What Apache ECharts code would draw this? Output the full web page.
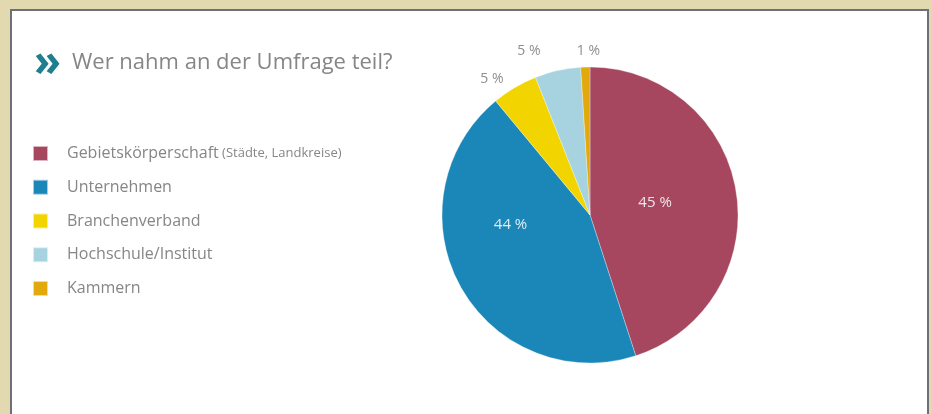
<!DOCTYPE html>
<html>
<head>
<meta charset="utf-8">
<script src="https://cdn.jsdelivr.net/npm/echarts@6/dist/echarts.min.js"></script>
<style>
html,body{margin:0;padding:0;background:#e3d9b1;}
#c{width:932px;height:414px;}
</style>
</head>
<body>
<div id="c"></div>
<script>
const categories = ['Gebietskörperschaft', 'Unternehmen', 'Branchenverband', 'Hochschule/Institut', 'Kammern'];
const legendSuffix = [' (Städte, Landkreise)', '', '', '', ''];
const values = [45, 44, 5, 5, 1];
const valueLabels = ['45 %', '44 %', '5 %', '5 %', '1 %'];
const colors = ['#a6475f', '#1b87b8', '#f2d500', '#a6d3df', '#e2a90c'];
const labelInside = [true, true, false, false, false];
const labelOffsets = [[-11, 0], [-12, -27], [-1, 0], [-10, -10], [20, -6]];

const chart = echarts.init(document.getElementById('c'));
const FONT = '"Open Sans", sans-serif';
const TEXT = '#868686';

const data = categories.map((name, i) => ({
  name: name,
  value: values[i],
  itemStyle: { color: colors[i] },
  label: labelInside[i] ? {
    position: 'inside', color: 'rgba(255,255,255,0.85)', fontSize: 15, offset: labelOffsets[i]
  } : {
    position: 'outside', color: '#8e8e8e', fontSize: 14, offset: labelOffsets[i]
  },
  labelLine: { show: false, length: 10, length2: 0 }
}));

chart.setOption({
  backgroundColor: '#e3d9b1',
  animation: false,
  graphic: [
    { type: 'rect', shape: { x: 11, y: 10, width: 917, height: 420 },
      style: { fill: '#ffffff', stroke: '#6d7177', lineWidth: 2 }, z: -10 },
    { type: 'text', x: 34, y: 63,
      style: { text: '»', fontSize: 44, fontWeight: 'bold', fill: '#1f7f8c',
               fontFamily: FONT, verticalAlign: 'middle', align: 'left' } }
  ],
  title: {
    text: 'Wer nahm an der Umfrage teil?',
    left: 67, top: 47,
    textStyle: { fontSize: 22, color: TEXT, fontFamily: FONT, fontWeight: 'normal' }
  },
  legend: {
    orient: 'vertical',
    left: 27, top: 140,
    itemWidth: 15, itemHeight: 15, itemGap: 16.75,
    icon: 'rect',
    data: categories,
    formatter: function (name) {
      const i = categories.indexOf(name);
      return legendSuffix[i] ? '{a|' + name + '}{b|' + legendSuffix[i] + '}' : '{a|' + name + '}';
    },
    textStyle: {
      padding: [0, 0, 0, 14],
      rich: {
        a: { fontSize: 16, lineHeight: 16, color: TEXT, fontFamily: FONT },
        b: { fontSize: 13, lineHeight: 16, color: TEXT, fontFamily: FONT }
      }
    }
  },
  series: [{
    type: 'pie',
    center: [590, 215],
    radius: 148,
    startAngle: 90,
    clockwise: true,
    avoidLabelOverlap: false,
    itemStyle: { borderColor: 'rgba(255,255,255,0.6)', borderWidth: 0.5 },
    label: {
      fontFamily: FONT,
      formatter: function (p) { return valueLabels[p.dataIndex]; }
    },
    emphasis: { disabled: true },
    data: data
  }]
});
</script>
</body>
</html>
